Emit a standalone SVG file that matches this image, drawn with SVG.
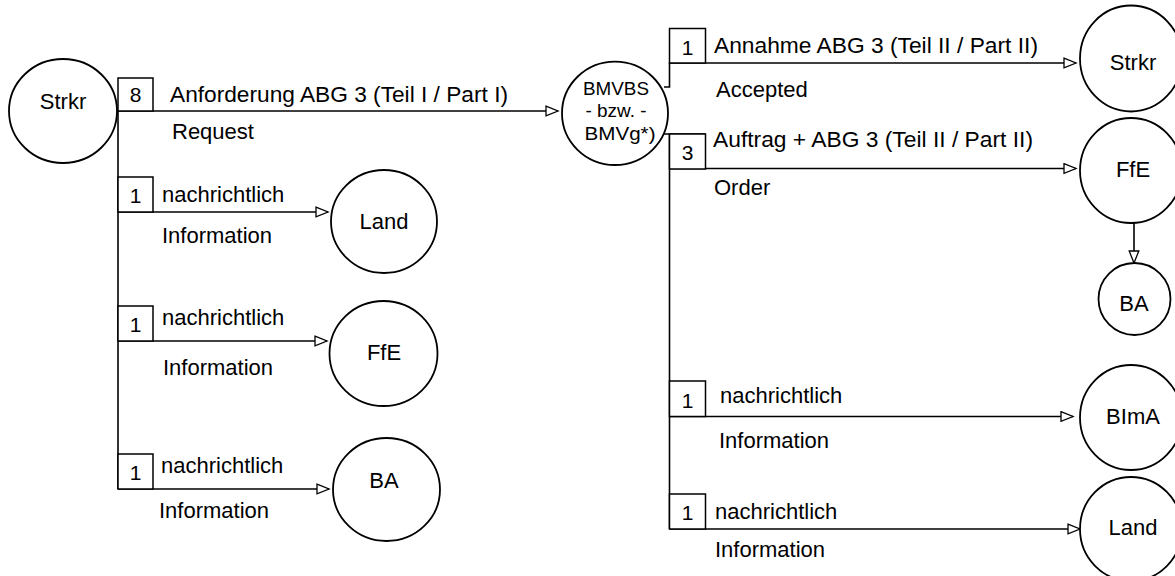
<svg xmlns="http://www.w3.org/2000/svg" width="1175" height="576" viewBox="0 0 1175 576">
<style>
  .node { fill: #fff; stroke: #000; stroke-width: 1.8; }
  .box { fill: #fff; stroke: #000; stroke-width: 1.5; }
  .ln { fill: none; stroke: #000; stroke-width: 1.6; }
  .t { font-family: "Liberation Sans", Arial, sans-serif; font-size: 22px; fill: #000; }
  .n { font-family: "Liberation Sans", Arial, sans-serif; font-size: 21px; fill: #000; text-anchor: middle; }
  .c { text-anchor: middle; }
  .s { font-family: "Liberation Sans", Arial, sans-serif; font-size: 18px; fill: #000; text-anchor: middle; }
</style>
<defs>
  <marker id="arr" markerWidth="15" markerHeight="12" refX="13.5" refY="6" orient="auto" markerUnits="userSpaceOnUse">
    <path d="M1.5,1.2 L13.5,6 L1.5,10.8 Z" fill="#fff" stroke="#000" stroke-width="1.3"/>
  </marker>
</defs>
<rect width="1175" height="576" fill="#fff"/>

<g id="connectors">
  <!-- left trunk -->
  <path class="ln" d="M117,111 H558" marker-end="url(#arr)"/>
  <path class="ln" d="M118,111 V489"/>
  <path class="ln" d="M118,212 H328" marker-end="url(#arr)"/>
  <path class="ln" d="M118,341 H327" marker-end="url(#arr)"/>
  <path class="ln" d="M118,489 H329" marker-end="url(#arr)"/>
  <!-- right trunk -->
  <path class="ln" d="M664,87 H669.5 V63 H1076" marker-end="url(#arr)"/>
  <path class="ln" d="M662,134 H705.5"/>
  <path class="ln" d="M669.5,134 V529"/>
  <path class="ln" d="M669.5,168.5 H1076" marker-end="url(#arr)"/>
  <path class="ln" d="M669.5,416.5 H1073" marker-end="url(#arr)"/>
  <path class="ln" d="M669.5,529 H1080" marker-end="url(#arr)"/>
  <path class="ln" d="M1134,223 V263" marker-end="url(#arr)"/>

  <!-- quantity boxes -->
  <rect class="box" x="118" y="78" width="35" height="33"/>
  <text class="n" x="135.5" y="102">8</text>
  <rect class="box" x="118" y="177" width="35" height="35"/>
  <text class="n" x="135.5" y="203">1</text>
  <rect class="box" x="118" y="306" width="35" height="35"/>
  <text class="n" x="135.5" y="332">1</text>
  <rect class="box" x="118" y="454" width="35" height="35"/>
  <text class="n" x="135.5" y="480">1</text>
  <rect class="box" x="669.5" y="28.5" width="36" height="34.5"/>
  <text class="n" x="687.5" y="55">1</text>
  <rect class="box" x="669.5" y="134" width="36" height="35"/>
  <text class="n" x="687.5" y="160">3</text>
  <rect class="box" x="669.5" y="381" width="36" height="35.5"/>
  <text class="n" x="687.5" y="408">1</text>
  <rect class="box" x="669.5" y="494" width="36" height="35"/>
  <text class="n" x="687.5" y="520">1</text>

  <!-- labels -->
  <text class="t" x="170" y="102" textLength="338" lengthAdjust="spacingAndGlyphs">Anforderung ABG 3 (Teil I / Part I)</text>
  <text class="t" x="172" y="139">Request</text>
  <text class="t" x="162" y="202">nachrichtlich</text>
  <text class="t" x="162" y="243">Information</text>
  <text class="t" x="162" y="325">nachrichtlich</text>
  <text class="t" x="163" y="375">Information</text>
  <text class="t" x="161" y="473">nachrichtlich</text>
  <text class="t" x="159" y="518">Information</text>

  <text class="t" x="714" y="53" textLength="324" lengthAdjust="spacingAndGlyphs">Annahme ABG 3 (Teil II / Part II)</text>
  <text class="t" x="716" y="97">Accepted</text>
  <text class="t" x="713" y="147" textLength="320" lengthAdjust="spacingAndGlyphs">Auftrag + ABG 3 (Teil II / Part II)</text>
  <text class="t" x="714" y="195">Order</text>
  <text class="t" x="720" y="403">nachrichtlich</text>
  <text class="t" x="719" y="448">Information</text>
  <text class="t" x="715" y="519">nachrichtlich</text>
  <text class="t" x="715" y="557">Information</text>
</g>

<g id="strkr-left">
  <ellipse class="node" cx="63" cy="111" rx="54" ry="52"/>
  <text class="t c" x="63" y="109">Strkr</text>
</g>
<g id="land-left">
  <ellipse class="node" cx="384" cy="221.5" rx="53" ry="51.5"/>
  <text class="t c" x="384" y="229">Land</text>
</g>
<g id="ffe-left">
  <ellipse class="node" cx="383.5" cy="353.5" rx="54" ry="52.5"/>
  <text class="t c" x="384" y="360">FfE</text>
</g>
<g id="ba-left">
  <ellipse class="node" cx="386.5" cy="489.5" rx="53.5" ry="51.5"/>
  <text class="t c" x="384" y="488">BA</text>
</g>
<g id="bmvbs">
  <ellipse class="node" cx="615" cy="113.3" rx="53" ry="51.7"/>
  <text class="s" x="616" y="94.5" textLength="66" lengthAdjust="spacingAndGlyphs">BMVBS</text>
  <text class="s" x="616" y="117" textLength="61" lengthAdjust="spacingAndGlyphs">- bzw. -</text>
  <text class="s" x="620" y="140" textLength="71" lengthAdjust="spacingAndGlyphs">BMVg*)</text>
</g>
<g id="strkr-right">
  <ellipse class="node" cx="1131" cy="58.5" rx="51" ry="53"/>
  <text class="t c" x="1133" y="70">Strkr</text>
</g>
<g id="ffe-right">
  <ellipse class="node" cx="1131" cy="170.5" rx="51" ry="52.5"/>
  <text class="t c" x="1133" y="177">FfE</text>
</g>
<g id="ba-right">
  <ellipse class="node" cx="1134.5" cy="299" rx="36" ry="36"/>
  <text class="t c" x="1134" y="311">BA</text>
</g>
<g id="bima">
  <ellipse class="node" cx="1131" cy="417.5" rx="51" ry="52.5"/>
  <text class="t c" x="1133" y="424">BImA</text>
</g>
<g id="land-right">
  <ellipse class="node" cx="1131" cy="529" rx="51" ry="52"/>
  <text class="t c" x="1133" y="535">Land</text>
</g>
</svg>
